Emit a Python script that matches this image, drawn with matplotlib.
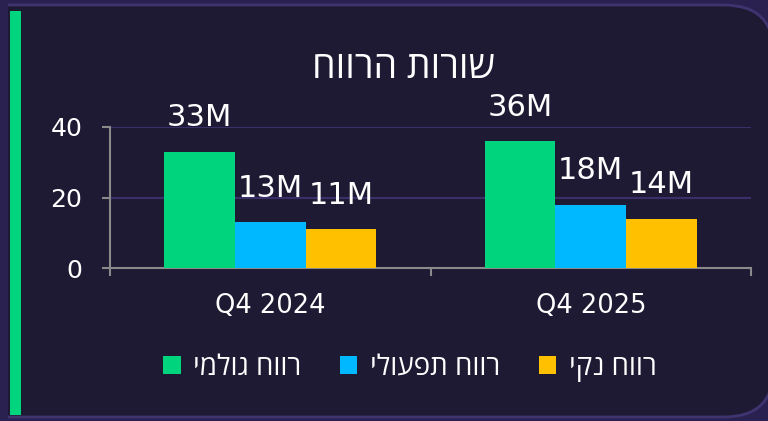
#!/usr/bin/env python

import numpy as np
import matplotlib
matplotlib.use("Agg")
import matplotlib.pyplot as plt
from matplotlib.patches import FancyBboxPatch, Rectangle
from matplotlib.transforms import IdentityTransform

# data
categories = ["Q4 2024", "Q4 2025"]
series_names = ["רווח גולמי", "רווח תפעולי", "רווח נקי"]
gross = [33, 36]
operating = [13, 18]
net = [11, 14]
value_labels = [["33M", "36M"], ["13M", "18M"], ["11M", "14M"]]
title = "שורות הרווח"
colors = ["#00d47c", "#00b8ff", "#ffc000"]
outer_bg = "#2a2150"

plt.rcParams["font.family"] = ["Open Sans", "DejaVu Sans"]
num_font = ["DejaVu Sans"]


def rtl(s):
    # matplotlib has no bidi support, so hebrew goes in visual order
    return s[::-1]


fig = plt.figure(figsize=(7.68, 4.21), dpi=100, facecolor=outer_bg)

# card, in pixel coords (y from bottom)
pix = IdentityTransform()
card = FancyBboxPatch((-60, 4), 834, 412,
                      boxstyle="round,pad=0,rounding_size=50",
                      transform=pix, facecolor="#1f1a33",
                      edgecolor="#3f3470", linewidth=2.0, zorder=-5)
fig.patches.append(card)
fig.patches.append(Rectangle((0, 0), 8, 421, transform=pix,
                             facecolor=outer_bg, edgecolor="none", zorder=-4))
fig.patches.append(Rectangle((10, 6), 11, 404, transform=pix,
                             facecolor="#00d47c", edgecolor="none", zorder=-3))

ax = fig.add_axes([110 / 768, 1 - 268 / 421, 641 / 768, 141 / 421])
ax.set_facecolor("none")

x = np.arange(len(categories))
w = 0.22
all_series = [gross, operating, net]
for i, vals in enumerate(all_series):
    pos = x + (i - 1) * w
    ax.bar(pos, vals, width=w, color=colors[i], label=rtl(series_names[i]),
           zorder=3)
    for px, v, lab in zip(pos, vals, value_labels[i]):
        ax.annotate(lab, (px, v), xytext=(0, 14), textcoords="offset points",
                    ha="center", va="bottom", color="white", fontsize=22,
                    family=num_font, annotation_clip=False)

ax.set_xlim(-0.5, 1.5)
ax.set_ylim(0, 40)
ax.set_yticks([0, 20, 40])
ax.set_xticks([-0.5, 0.5, 1.5])
ax.set_xticklabels([])
ax.set_xticks(x, minor=True)
ax.set_xticklabels(categories, minor=True)
for t in ax.get_yticklabels() + ax.get_xticklabels(minor=True):
    t.set_family(num_font)

ax.tick_params(axis="y", colors="#8a8a8a", labelcolor="white", labelsize=18,
               length=6, width=1.5, pad=14)
ax.tick_params(axis="x", which="major", colors="#8a8a8a", length=6, width=1.5)
ax.tick_params(axis="x", which="minor", length=0, labelcolor="white",
               labelsize=18.5, pad=18)

ax.grid(axis="y", color="#3a2f6b", linewidth=1.5, zorder=0)
for s in ["top", "right"]:
    ax.spines[s].set_visible(False)
for s in ["left", "bottom"]:
    ax.spines[s].set_color("#8a8a8a")
    ax.spines[s].set_linewidth(1.5)

fig.text(404 / 768, 1 - 68 / 421, rtl(title), ha="center", va="center",
         color="white", fontsize=27)

leg = fig.legend(loc="center", bbox_to_anchor=(410 / 768, 1 - 368 / 421),
                 ncol=3, frameon=False, labelcolor="white", fontsize=20,
                 handlelength=0.62, handleheight=0.62, handletextpad=0.45,
                 columnspacing=1.4)

fig.savefig("out.png", dpi=100, facecolor=fig.get_facecolor())
